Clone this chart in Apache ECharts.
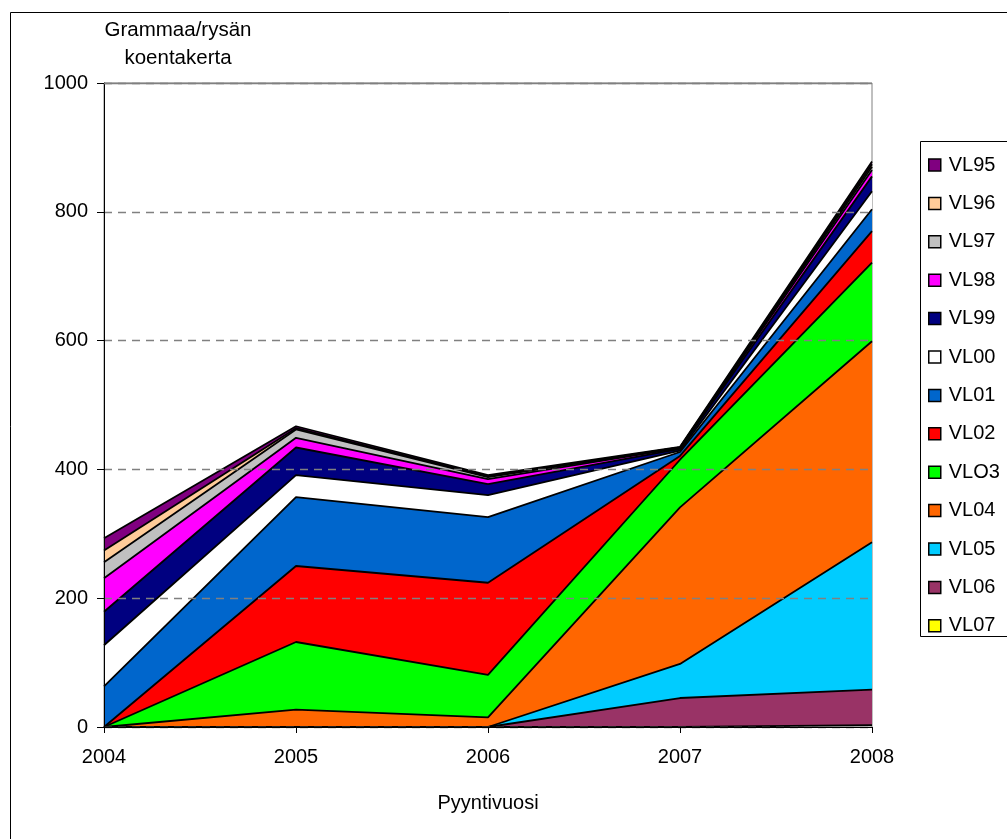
<!DOCTYPE html>
<html><head><meta charset="utf-8">
<script src="https://cdn.jsdelivr.net/npm/echarts@6/dist/echarts.min.js"></script>
<style>html,body{margin:0;padding:0;background:#fff}#c{width:1007px;height:839px}</style>
</head><body><div id="c"></div>
<script>
const years = ['2004','2005','2006','2007','2008'];
const yTicks = [0,200,400,600,800,1000];
// stack order bottom -> top
const VL07 = [0, 0, 0, 0, 3];
const VL06 = [0, 0, 0, 45, 55];
const VL05 = [0, 0, 0, 53, 229];
const VL04 = [0, 27, 15, 243, 312];
const VLO3 = [0, 105, 66, 74, 122];
const VL02 = [0, 118, 143, 6, 49];
const VL01 = [63, 107, 102, 6, 34];
const VL00 = [64, 34, 34, 2, 28];
const VL99 = [52, 43, 17, 3, 23];
const VL98 = [52, 15, 8, 1, 10];
const VL97 = [25, 13, 3, 1, 5];
const VL96 = [18, 2, 1, 0, 4];
const VL95 = [19, 3, 2, 1, 4];
const names = ['VL07','VL06','VL05','VL04','VLO3','VL02','VL01','VL00','VL99','VL98','VL97','VL96','VL95'];
const values = [VL07,VL06,VL05,VL04,VLO3,VL02,VL01,VL00,VL99,VL98,VL97,VL96,VL95];
const colors = ['#FFFF00','#993366','#00CCFF','#FF6600','#00FF00','#FF0000','#0066CC','#FFFFFF','#000080','#FF00FF','#C0C0C0','#FFCC99','#800080'];

const FONT = 'Liberation Sans, Arial, sans-serif';
const chart = echarts.init(document.getElementById('c'), null, {renderer:'canvas'});
const series = names.map((n,i)=>({
  name:n, type:'line', stack:'all', data:values[i], symbol:'none',
  lineStyle:{color:'#000', width:1.8}, areaStyle:{color:colors[i], opacity:1},
  itemStyle:{color:colors[i], borderColor:'#000', borderWidth:1.5},
  emphasis:{disabled:true}, z:2
}));
chart.setOption({
  animation:false,
  backgroundColor:'#fff',
  textStyle:{fontFamily:FONT},
  grid:{left:104, right:135, top:83, bottom:112, show:true, borderColor:'#808080', borderWidth:1, backgroundColor:'transparent'},
  xAxis:{type:'category', data:years, boundaryGap:false,
    axisLine:{lineStyle:{color:'#000', width:1}},
    axisTick:{show:true, length:6, lineStyle:{color:'#000'}, alignWithLabel:true},
    axisLabel:{color:'#000', fontSize:20, fontFamily:FONT, margin:20},
    splitLine:{show:false}, z:5},
  yAxis:{type:'value', min:0, max:1000, interval:200,
    axisLine:{show:true, lineStyle:{color:'#000', width:1}},
    axisTick:{show:true, length:7, lineStyle:{color:'#000'}},
    axisLabel:{color:'#000', fontSize:20, fontFamily:FONT, margin:16,
      formatter:v=> yTicks.includes(v)? String(v):''},
    splitLine:{show:true, lineStyle:{color:'#808080', type:[8,6], width:1.3}}, z:5},
  legend:{orient:'vertical', left:923, top:150, data:names.slice().reverse(),
    icon:'rect', itemWidth:12, itemHeight:12, itemGap:18.4,
    itemStyle:{borderColor:'#000', borderWidth:1.5},
    textStyle:{color:'#000', fontSize:20, fontFamily:FONT, lineHeight:20, padding:[0,0,0,3]},
    selectedMode:false},
  graphic:[
    {type:'rect', left:8, top:10, shape:{x:0,y:0,width:1100,height:900}, style:{fill:'none', stroke:'#000', lineWidth:1}, silent:true, z:-1},
    {type:'rect', left:920, top:141, shape:{x:0,y:0,width:120,height:495}, style:{fill:'#fff', stroke:'#000', lineWidth:1}, silent:true, z:-1},
    {type:'line', shape:{x1:104, y1:83.5, x2:872, y2:83.5}, style:{stroke:'#808080', lineWidth:1.3}, silent:true, z:10},
    {type:'text', x:178, y:30, style:{text:'Grammaa/rysän', font:'20.5px '+FONT, fill:'#000', textAlign:'center', textVerticalAlign:'middle'}},
    {type:'text', x:178, y:58, style:{text:'koentakerta', font:'20.5px '+FONT, fill:'#000', textAlign:'center', textVerticalAlign:'middle'}},
    {type:'text', x:488, y:803, style:{text:'Pyyntivuosi', font:'20px '+FONT, fill:'#000', textAlign:'center', textVerticalAlign:'middle'}}
  ],
  series:series
});
</script></body></html>
